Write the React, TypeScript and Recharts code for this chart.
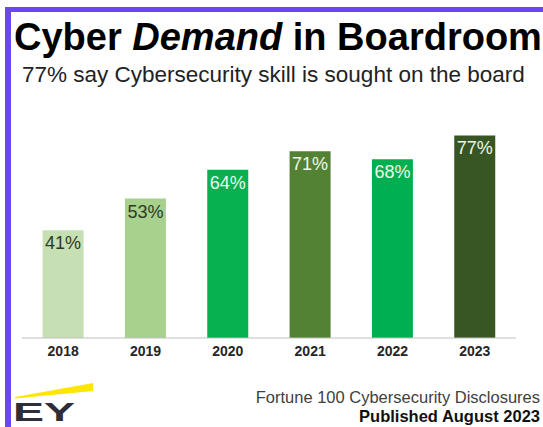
import React from 'react';
import { BarChart, Bar, XAxis, YAxis, Cell, LabelList } from 'recharts';

const years = ['2018', '2019', '2020', '2021', '2022', '2023'];
const shares = [41, 53, 64, 71, 68, 77];
const barColors = ['#c6e0b4', '#a9d18e', '#05b04f', '#548235', '#00b050', '#375623'];
const labelColors = ['#2b3a24', '#2b3a24', '#eef7ea', '#eef7ea', '#eef7ea', '#eef7ea'];

const data = years.map((year, i) => ({ year, share: shares[i] }));

const font = 'Arial, "Liberation Sans", sans-serif';

const renderLabel = (props: any) => {
    const { x, y, width, value, index } = props;
    return (
        <text
            x={x + width / 2}
            y={y + 19}
            textAnchor="middle"
            fontSize={18}
            fontFamily={font}
            fill={labelColors[index]}
        >
            {`${value}%`}
        </text>
    );
};

const App = () => {
    return (
        <div style={{ position: 'absolute', left: 0, top: 0, width: 543, height: 427, overflow: 'hidden', background: '#fff' }}>
            <BarChart
                width={543}
                height={427}
                data={data}
                margin={{ top: 75, right: 27, left: 22, bottom: 59 }}
                barCategoryGap="25%"
            >
                <XAxis
                    dataKey="year"
                    height={30}
                    tickLine={false}
                    axisLine={{ stroke: '#bfbfbf' }}
                    tick={{ fontSize: 14, fontWeight: 'bold', fill: '#262626', fontFamily: font }}
                />
                <YAxis hide domain={[0, 100]} />
                <Bar dataKey="share" isAnimationActive={false}>
                    {data.map((d, i) => (
                        <Cell key={d.year} fill={barColors[i]} />
                    ))}
                    <LabelList dataKey="share" content={renderLabel} />
                </Bar>
            </BarChart>
            <svg
                width={543}
                height={427}
                style={{ position: 'absolute', left: 0, top: 0, pointerEvents: 'none' }}
            >
                <rect x={5} y={7} width={538} height={5} fill="#6a47f2" />
                <rect x={5} y={7} width={6} height={420} fill="#6a47f2" />
                <text x={14} y={50} fontSize={38} fontWeight="bold" fontFamily={font} fill="#000">
                    Cyber <tspan fontStyle="italic">Demand</tspan> in Boardroom
                </text>
                <text x={22} y={82} fontSize={22.5} fontFamily={font} fill="#222">
                    77% say Cybersecurity skill is sought on the board
                </text>
                <text x={540} y={403} textAnchor="end" fontSize={16.5} fontFamily={font} fill="#404040">
                    Fortune 100 Cybersecurity Disclosures
                </text>
                <text x={540} y={422} textAnchor="end" fontSize={16.5} fontWeight="bold" fontFamily={font} fill="#111">
                    Published August 2023
                </text>
                <polygon points="15,397 93,383 93,391 15,398.5" fill="#ffe600" />
                <text
                    x={13}
                    y={421}
                    fontSize={26}
                    fontWeight="bold"
                    fontFamily={font}
                    fill="#2e2e38"
                    textLength={62}
                    lengthAdjust="spacingAndGlyphs"
                >
                    EY
                </text>
            </svg>
        </div>
    );
};

export default App;
